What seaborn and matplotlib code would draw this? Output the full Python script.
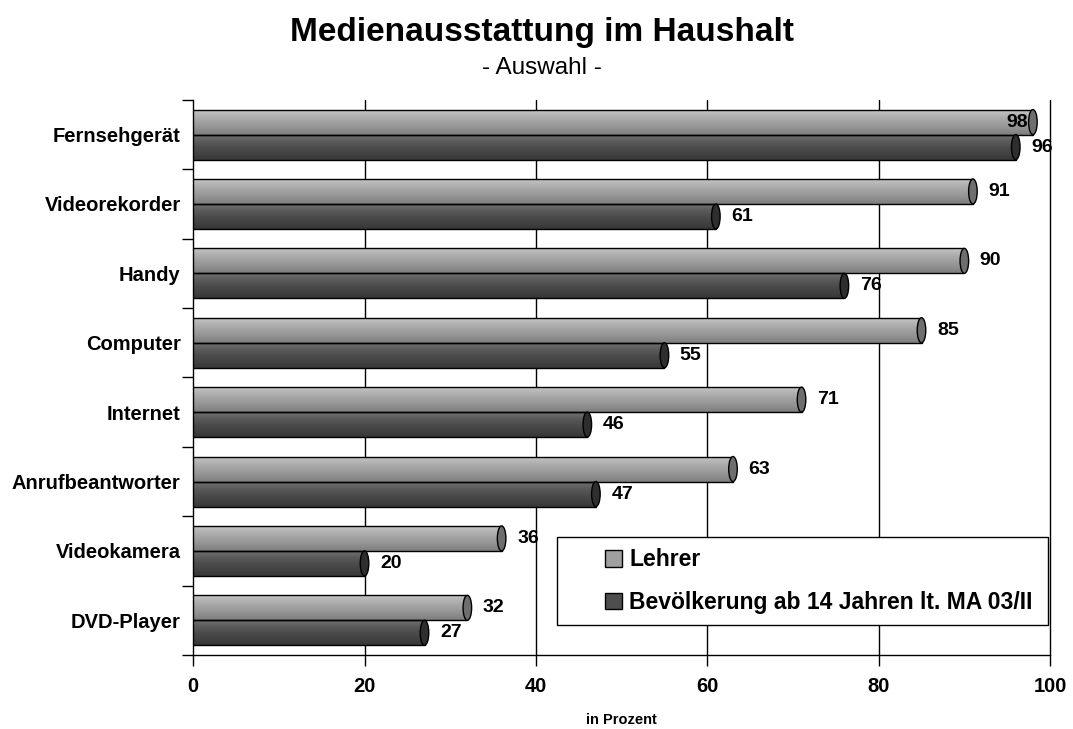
import numpy as np
import pandas as pd
import matplotlib
matplotlib.use("Agg")
import matplotlib.pyplot as plt
import seaborn as sns
from matplotlib.patches import Ellipse, Patch, Rectangle
from matplotlib.colors import LinearSegmentedColormap

categories = ["Fernsehgerät", "Videorekorder", "Handy", "Computer", "Internet",
              "Anrufbeantworter", "Videokamera", "DVD-Player"]
lehrer = [98, 91, 90, 85, 71, 63, 36, 32]
bevoelkerung = [96, 61, 76, 55, 46, 47, 20, 27]
series_names = ["Lehrer", "Bevölkerung ab 14 Jahren lt. MA 03/II"]
xticks = [0, 20, 40, 60, 80, 100]

df = pd.DataFrame({
    "Medium": categories * 2,
    "Wert": lehrer + bevoelkerung,
    "Gruppe": [series_names[0]] * len(categories) + [series_names[1]] * len(categories),
})

sns.set_theme(style="white")
plt.rcParams["font.family"] = ["Liberation Sans", "DejaVu Sans"]
plt.rcParams["text.color"] = "black"
plt.rcParams["xtick.color"] = "black"
plt.rcParams["ytick.color"] = "black"
plt.rcParams["axes.labelcolor"] = "black"

fig = plt.figure(figsize=(10.73, 7.29), dpi=100)
ax = fig.add_axes([0.180, 0.1015, 0.7986, 0.7615])

base_cols = {series_names[0]: "#A0A0A0", series_names[1]: "#4E4E4E"}
sns.barplot(data=df, y="Medium", x="Wert", hue="Gruppe", order=categories,
            hue_order=series_names, palette=base_cols, width=0.72,
            edgecolor="black", linewidth=1.0, ax=ax, legend=False, zorder=3)

ax.set_xlim(0, 100)
ax.set_ylim(len(categories) - 0.5, -0.5)

# cylinder shading
grad = {
    series_names[0]: ["#C4C4C4", "#B0B0B0", "#A0A0A0", "#909090", "#7E7E7E"],
    series_names[1]: ["#707070", "#5C5C5C", "#4C4C4C", "#424242", "#363636"],
}
caps = {series_names[0]: "#6E6E6E", series_names[1]: "#2E2E2E"}
n = len(categories)
for ci, cont in enumerate(ax.containers):
    name = series_names[ci]
    cmap = LinearSegmentedColormap.from_list(name, grad[name])
    for p in cont.patches:
        x0, y0 = p.get_x(), p.get_y()
        w, h = p.get_width(), p.get_height()
        img = ax.imshow(np.linspace(0, 1, 64).reshape(-1, 1), cmap=cmap, aspect="auto",
                        extent=(x0, x0 + w, y0 + h, y0), zorder=3.5)
        img.set_clip_path(p)
        p.set_facecolor("none")
        p.set_zorder(4)
        ell = Ellipse((x0 + w, y0 + h / 2), width=1.0, height=h,
                      facecolor=caps[name], edgecolor="black", linewidth=1.0, zorder=5)
        ax.add_patch(ell)
ax.set_xlim(0, 100)
ax.set_ylim(len(categories) - 0.5, -0.5)

# value labels
for ci, cont in enumerate(ax.containers):
    for p in cont.patches:
        v = p.get_width()
        yc = p.get_y() + p.get_height() / 2
        if v + 4 > 100:
            ax.text(v - 0.6, yc, f"{v:.0f}", ha="right", va="center",
                    fontsize=14, fontweight="bold", color="black", zorder=6)
        else:
            ax.text(v + 1.8, yc, f"{v:.0f}", ha="left", va="center",
                    fontsize=14, fontweight="bold", color="black", zorder=6)

# grid and spines
ax.set_xticks(xticks)
ax.set_xticklabels([str(t) for t in xticks], fontsize=14.5, fontweight="bold")
for t in xticks[1:]:
    ax.axvline(t, color="black", linewidth=1.0, zorder=1, clip_on=False)
for s in ["top", "right"]:
    ax.spines[s].set_visible(False)
for s in ["left", "bottom"]:
    ax.spines[s].set_visible(True)
    ax.spines[s].set_color("black")
    ax.spines[s].set_linewidth(1.0)

ax.tick_params(axis="x", which="major", direction="out", length=8, width=1,
               color="black", pad=8, bottom=True)
ax.set_yticks(range(n))
ax.set_yticklabels(categories, fontsize=14.5, fontweight="bold")
ax.tick_params(axis="y", which="major", length=0, pad=9)
ax.set_yticks(np.arange(-0.5, n, 1.0), minor=True)
ax.tick_params(axis="y", which="minor", direction="out", length=8, width=1,
               color="black", left=True)

ax.set_ylabel("")
ax.set_xlabel("in Prozent", fontsize=10.5, fontweight="bold", labelpad=12)

# legend box
box = Rectangle((0.4248, 0.054), 0.5729, 0.1586, transform=ax.transAxes,
                facecolor="white", edgecolor="black", linewidth=1.0, zorder=9)
ax.add_patch(box)
handles = [Patch(facecolor=base_cols[nm], edgecolor="black", linewidth=1.0) for nm in series_names]
leg = ax.legend(handles, series_names, loc="center left",
                bbox_to_anchor=(0.481, 0.133), borderaxespad=0, borderpad=0,
                frameon=False, handlelength=0.75, handleheight=0.75,
                handletextpad=0.3, labelspacing=0.85,
                prop={"size": 16.5, "weight": "bold"})
leg.set_zorder(10)

fig.text(0.505, 0.955, "Medienausstattung im Haushalt", ha="center", va="center",
         fontsize=24, fontweight="bold")
fig.text(0.505, 0.907, "- Auswahl -", ha="center", va="center", fontsize=17.5)

fig.savefig("out.png", dpi=100, facecolor="white")
